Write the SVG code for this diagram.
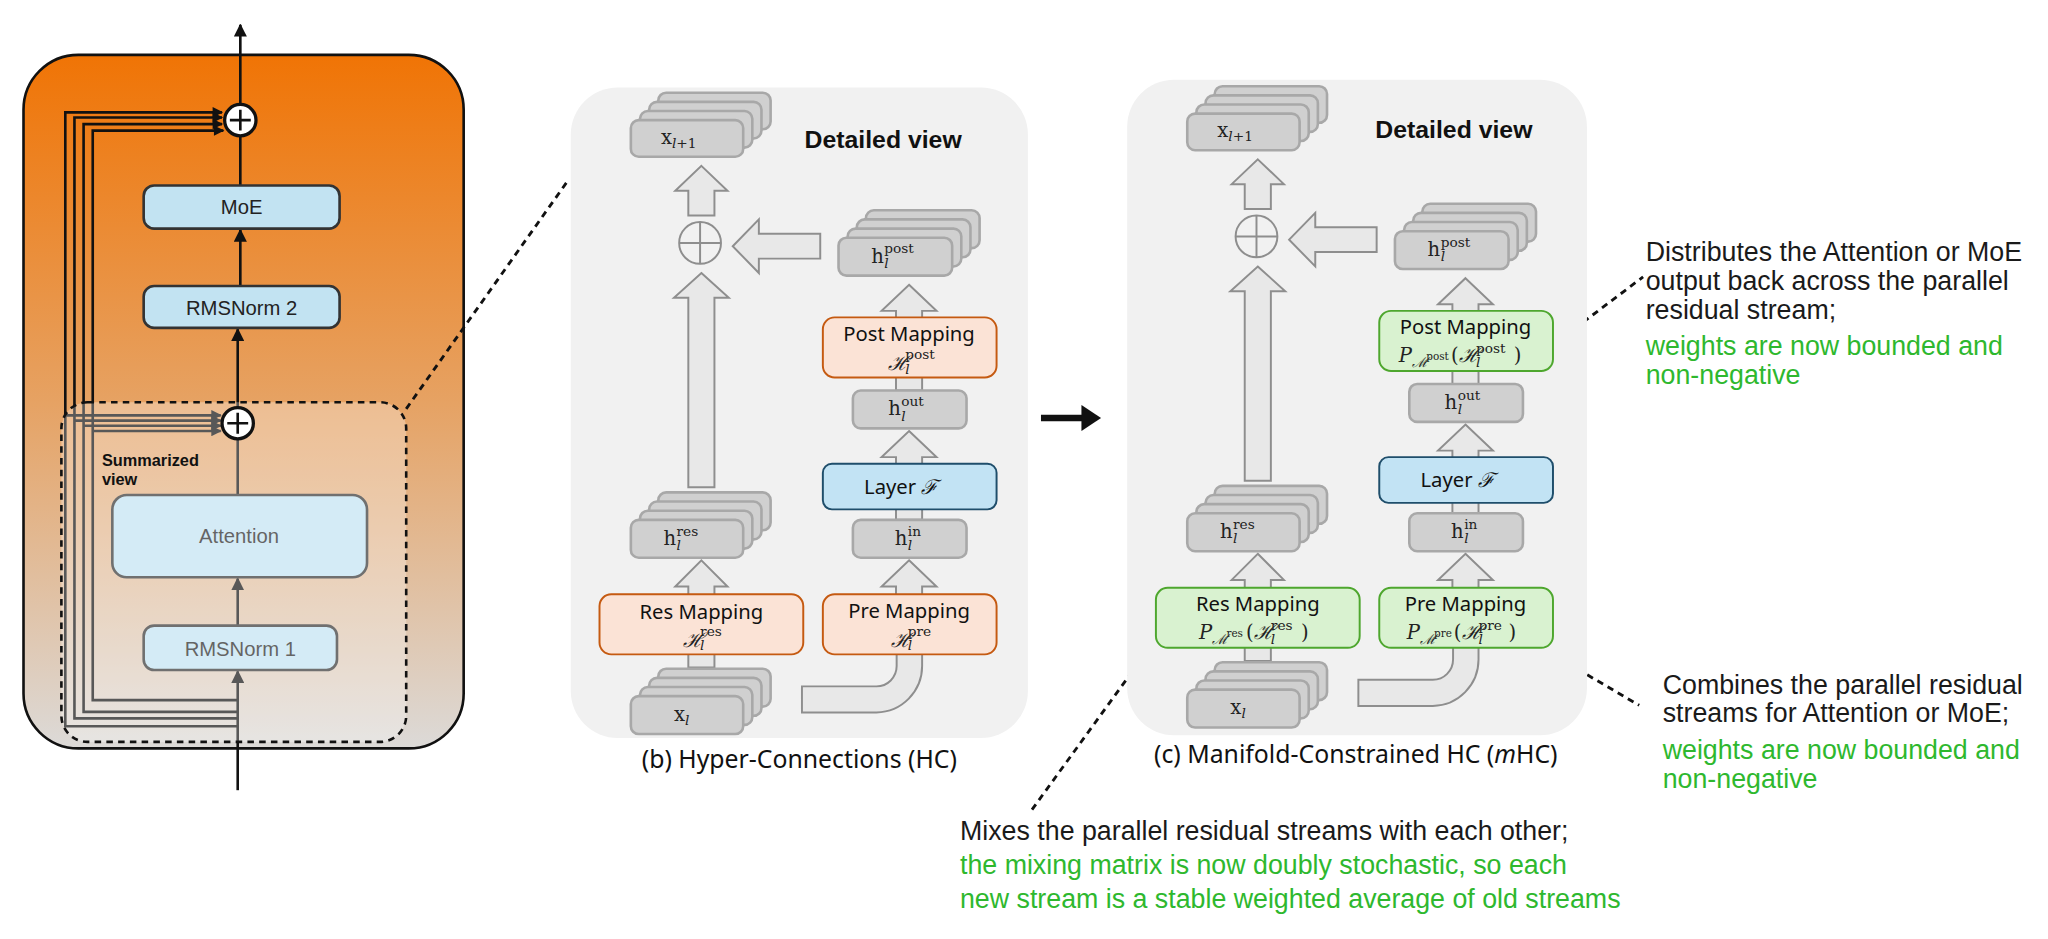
<svg xmlns="http://www.w3.org/2000/svg" width="2048" height="939" viewBox="0 0 2048 939">
<defs>
<linearGradient id="og" x1="0" y1="0" x2="0" y2="1">
<stop offset="0" stop-color="#F07405"/>
<stop offset="0.5" stop-color="#E6A263"/>
<stop offset="1" stop-color="#DCDAD8"/>
</linearGradient>
<marker id="ah" viewBox="0 0 10 10" refX="9" refY="5" markerWidth="10" markerHeight="10" markerUnits="userSpaceOnUse" orient="auto"><path d="M0,0 L10,5 L0,10 z" fill="#111"/></marker>
<marker id="ahs" viewBox="0 0 10 10" refX="9" refY="5" markerWidth="9" markerHeight="8" markerUnits="userSpaceOnUse" orient="auto"><path d="M0,0 L10,5 L0,10 z" fill="#111"/></marker>
<style>
.blk{fill:#C2E3F2;stroke:#333;stroke-width:2}
.lt{font-family:"Liberation Sans",Arial,sans-serif;font-size:15.5px;fill:#222;text-anchor:middle}
.ln{stroke:#111;stroke-width:2;fill:none}
.pan{fill:#F1F1F1}
.st{fill:#D0D0D0;stroke:#A8A8A8;stroke-width:2}
.ba{fill:#E8E8E8;stroke:#8E8E8E;stroke-width:1.5}
.om{fill:#FBE3D6;stroke:#C55A11;stroke-width:1.5}
.gm{fill:#D9F2D0;stroke:#4EA72E;stroke-width:1.5}
.lay{fill:#C2E3F4;stroke:#1F4E6B;stroke-width:1.5}
.m{font-family:"DejaVu Serif",serif;font-size:15px;fill:#222}
.ms{font-family:"DejaVu Serif",serif;font-size:10.5px;fill:#222}
.mx{font-family:"DejaVu Serif",serif;font-size:8px;fill:#222}
.it{font-style:italic}
.mt{font-family:"Noto Sans",sans-serif;font-size:15.5px;fill:#111;text-anchor:middle}
.dv{font-family:"Liberation Sans",Arial,sans-serif;font-size:19px;font-weight:bold;fill:#111}
.cap{font-family:"Noto Sans",sans-serif;font-size:19px;fill:#111;text-anchor:middle}
.an{font-family:"Liberation Sans",Arial,sans-serif;font-size:20.5px;fill:#1a1a1a}
.ag{font-family:"Liberation Sans",Arial,sans-serif;font-size:20.5px;fill:#2EB82E}
.dl{stroke:#111;stroke-width:2.2;stroke-dasharray:5,4;fill:none}
</style>
</defs>
<g transform="scale(1.30612)">
<g id="summary-panel">
<rect x="18" y="42" width="337" height="531" rx="42" fill="url(#og)" stroke="#111" stroke-width="2"/>
</g>
<g id="connectors">
<path class="ln" d="M182,556 H50 V86 H170" marker-end="url(#ahs)"/>
<path class="ln" d="M182,550 H57 V90 H170" marker-end="url(#ahs)"/>
<path class="ln" d="M182,545 H64 V95 H170" marker-end="url(#ahs)"/>
<path class="ln" d="M182,536 H71 V100 H171" marker-end="url(#ahs)"/>
<path class="ln" d="M50,318 H169" marker-end="url(#ahs)"/>
<path class="ln" d="M57,322 H169" marker-end="url(#ahs)"/>
<path class="ln" d="M64,326 H169" marker-end="url(#ahs)"/>
<path class="ln" d="M71,330 H169" marker-end="url(#ahs)"/>
<path class="ln" d="M182,605 V514" marker-end="url(#ah)" stroke-width="2.5"/>
<path class="ln" d="M182,479 V443" marker-end="url(#ah)" stroke-width="2.5"/>
<path class="ln" d="M182,379 V336" stroke-width="2.5"/>
<path class="ln" d="M182,312 V252" marker-end="url(#ah)" stroke-width="2.5"/>
<path class="ln" d="M184,219 V176" marker-end="url(#ah)" stroke-width="2.5"/>
<path class="ln" d="M184,142 V104" stroke-width="2.5"/>
<path class="ln" d="M184,80 V19" marker-end="url(#ah)" stroke-width="2.5"/>
<path class="dl" d="M311,313 L435,138"/>
<path class="dl" d="M1205,252 L1258,212"/>
<path class="dl" d="M1192,503 L1255,540"/>
<path class="dl" d="M883,492 L790,620"/>
<path d="M797,320 H830" stroke="#111" stroke-width="5"/>
<path d="M828,310 L843,320 L828,330 z" fill="#111"/>
</g>
<g id="moe"><rect class="blk" x="110" y="142" width="150" height="33" rx="8"/><text class="lt" x="185" y="164">MoE</text></g>
<g id="rmsnorm2"><rect class="blk" x="110" y="219" width="150" height="32" rx="8"/><text class="lt" x="185" y="241">RMSNorm 2</text></g>
<g id="attention"><rect class="blk" x="86" y="379" width="195" height="63" rx="11"/><text class="lt" x="183" y="416" font-size="16">Attention</text></g>
<g id="rmsnorm1"><rect class="blk" x="110" y="479" width="148" height="34" rx="8"/><text class="lt" x="184" y="502">RMSNorm 1</text></g>
<g id="summarized-view">
<rect x="47" y="308" width="264" height="260" rx="20" fill="#fff" fill-opacity="0.3" stroke="#111" stroke-width="2" stroke-dasharray="5,4"/>
<text x="78" y="357" font-family="Liberation Sans,Arial,sans-serif" font-weight="bold" font-size="12.5" fill="#111">Summarized</text>
<text x="78" y="371" font-family="Liberation Sans,Arial,sans-serif" font-weight="bold" font-size="12.5" fill="#111">view</text>
</g>
<g id="plus-top"><circle cx="184" cy="92" r="12" fill="#fff" stroke="#111" stroke-width="2.5"/><path d="M176,92 H192 M184,84 V100" stroke="#111" stroke-width="2"/></g>
<g id="plus-mid"><circle cx="182" cy="324" r="12" fill="#fff" stroke="#111" stroke-width="2.5"/><path d="M174,324 H190 M182,316 V332" stroke="#111" stroke-width="2"/></g>

<g id="panel-hc">
<rect class="pan" x="437" y="67" width="350" height="498" rx="36"/>
<text class="dv" x="616" y="113">Detailed view</text>
<text class="cap" x="612" y="588">(b) Hyper-Connections (HC)</text>
<g id="hc-arrows">
<polygon class="ba" points="537,127 557,146 547,146 547,165 527,165 527,146 517,146"/>
<polygon class="ba" points="537,209 558,228 547,228 547,373 527,373 527,228 516,228"/>
<polygon class="ba" points="537,429 557,449 547,449 547,511 527,511 527,449 517,449"/>
<polygon class="ba" points="561,188.5 581,168 581,179 628,179 628,198 581,198 581,209"/>
<polygon class="ba" points="696,218 717,238 706,238 706,299 686,299 686,238 675,238"/>
<polygon class="ba" points="696,330 717,350 706,350 706,398 686,398 686,350 675,350"/>
<polygon class="ba" points="696,429 717,449 706,449 706,456 686,456 686,449 675,449"/>
<path class="ba" d="M686.5,500 V510 A15.5,15.5 0 0 1 671,525.5 H614 V545.5 H671 A35.5,35.5 0 0 0 706,510 V500 Z"/>
</g>
<g id="hc-plus"><circle cx="536" cy="186" r="16" fill="#F1F1F1" stroke="#8E8E8E" stroke-width="1.5"/><path d="M520,186 H552 M536,170 V202" stroke="#8E8E8E" stroke-width="1.5"/></g>
<g id="hc-xnext">
<rect class="st" x="504" y="71" width="86" height="28" rx="6"/><rect class="st" x="497" y="78" width="86" height="28" rx="6"/><rect class="st" x="490" y="85" width="86" height="28" rx="6"/><rect class="st" x="483" y="92" width="86" height="28" rx="6"/>
<text class="m" x="506" y="110">x<tspan class="ms it" dy="3">l</tspan><tspan class="ms" dy="0">+1</tspan></text>
</g>
<g id="hc-hres">
<rect class="st" x="504" y="377" width="86" height="29" rx="6"/><rect class="st" x="497" y="384" width="86" height="29" rx="6"/><rect class="st" x="490" y="391" width="86" height="29" rx="6"/><rect class="st" x="483" y="398" width="86" height="29" rx="6"/>
<text class="m" x="508" y="417">h</text><text class="ms it" x="518" y="421">l</text><text class="ms" x="518" y="410">res</text>
</g>
<g id="hc-xl">
<rect class="st" x="504" y="512" width="86" height="29" rx="6"/><rect class="st" x="497" y="519" width="86" height="29" rx="6"/><rect class="st" x="490" y="526" width="86" height="29" rx="6"/><rect class="st" x="483" y="533" width="86" height="29" rx="6"/>
<text class="m" x="516" y="552">x<tspan class="ms it" dy="3">l</tspan></text>
</g>
<g id="hc-hpost">
<rect class="st" x="663" y="161" width="87" height="29" rx="6"/><rect class="st" x="656" y="168" width="87" height="29" rx="6"/><rect class="st" x="649" y="175" width="87" height="29" rx="6"/><rect class="st" x="642" y="182" width="87" height="29" rx="6"/>
<text class="m" x="667" y="201">h</text><text class="ms it" x="677" y="205">l</text><text class="ms" x="677" y="194">post</text>
</g>
<g id="hc-post"><rect class="om" x="630" y="243" width="133" height="46" rx="9"/><text class="mt" x="696" y="261">Post Mapping</text>
<text class="m it" x="680" y="283">ℋ</text><text class="ms it" x="693" y="286">l</text><text class="ms" x="693" y="275">post</text></g>
<g id="hc-hout"><rect class="st" x="653" y="299" width="87" height="29" rx="6"/><text class="m" x="680" y="318">h</text><text class="ms it" x="690" y="322">l</text><text class="ms" x="690" y="311">out</text></g>
<g id="hc-layer"><rect class="lay" x="630" y="355" width="133" height="35" rx="7"/><text class="mt" x="690" y="378">Layer <tspan font-family="DejaVu Serif,serif" font-style="italic">ℱ</tspan></text></g>
<g id="hc-hin"><rect class="st" x="653" y="398" width="87" height="29" rx="6"/><text class="m" x="685" y="417">h</text><text class="ms it" x="695" y="421">l</text><text class="ms" x="695" y="410">in</text></g>
<g id="hc-res"><rect class="om" x="459" y="455" width="156" height="46" rx="9"/><text class="mt" x="537" y="474">Res Mapping</text>
<text class="m it" x="523" y="495">ℋ</text><text class="ms it" x="536" y="498">l</text><text class="ms" x="536" y="487">res</text></g>
<g id="hc-pre"><rect class="om" x="630" y="455" width="133" height="46" rx="9"/><text class="mt" x="696" y="473">Pre Mapping</text>
<text class="m it" x="682" y="495">ℋ</text><text class="ms it" x="695" y="498">l</text><text class="ms" x="695" y="487">pre</text></g>
</g>

<g id="panel-mhc" transform="translate(426,-5)">
<rect class="pan" x="437" y="66" width="352" height="502" rx="36"/>
<text class="dv" x="627" y="111">Detailed view</text>
<text class="cap" x="612" y="589">(c) Manifold-Constrained HC (<tspan font-style="italic">m</tspan>HC)</text>
<g id="mhc-arrows">
<polygon class="ba" points="537,127 557,146 547,146 547,165 527,165 527,146 517,146"/>
<polygon class="ba" points="537,209 558,228 547,228 547,373 527,373 527,228 516,228"/>
<polygon class="ba" points="537,429 557,449 547,449 547,511 527,511 527,449 517,449"/>
<polygon class="ba" points="561,188.5 581,168 581,179 628,179 628,198 581,198 581,209"/>
<polygon class="ba" points="696,218 717,238 706,238 706,299 686,299 686,238 675,238"/>
<polygon class="ba" points="696,330 717,350 706,350 706,398 686,398 686,350 675,350"/>
<polygon class="ba" points="696,429 717,449 706,449 706,456 686,456 686,449 675,449"/>
<path class="ba" d="M686.5,500 V510 A15.5,15.5 0 0 1 671,525.5 H614 V545.5 H671 A35.5,35.5 0 0 0 706,510 V500 Z"/>
</g>
<g id="mhc-plus"><circle cx="536" cy="186" r="16" fill="#F1F1F1" stroke="#8E8E8E" stroke-width="1.5"/><path d="M520,186 H552 M536,170 V202" stroke="#8E8E8E" stroke-width="1.5"/></g>
<g id="mhc-xnext">
<rect class="st" x="504" y="71" width="86" height="28" rx="6"/><rect class="st" x="497" y="78" width="86" height="28" rx="6"/><rect class="st" x="490" y="85" width="86" height="28" rx="6"/><rect class="st" x="483" y="92" width="86" height="28" rx="6"/>
<text class="m" x="506" y="110">x<tspan class="ms it" dy="3">l</tspan><tspan class="ms" dy="0">+1</tspan></text>
</g>
<g id="mhc-hres">
<rect class="st" x="504" y="377" width="86" height="29" rx="6"/><rect class="st" x="497" y="384" width="86" height="29" rx="6"/><rect class="st" x="490" y="391" width="86" height="29" rx="6"/><rect class="st" x="483" y="398" width="86" height="29" rx="6"/>
<text class="m" x="508" y="417">h</text><text class="ms it" x="518" y="421">l</text><text class="ms" x="518" y="410">res</text>
</g>
<g id="mhc-xl">
<rect class="st" x="504" y="512" width="86" height="29" rx="6"/><rect class="st" x="497" y="519" width="86" height="29" rx="6"/><rect class="st" x="490" y="526" width="86" height="29" rx="6"/><rect class="st" x="483" y="533" width="86" height="29" rx="6"/>
<text class="m" x="516" y="552">x<tspan class="ms it" dy="3">l</tspan></text>
</g>
<g id="mhc-hpost">
<rect class="st" x="663" y="161" width="87" height="29" rx="6"/><rect class="st" x="656" y="168" width="87" height="29" rx="6"/><rect class="st" x="649" y="175" width="87" height="29" rx="6"/><rect class="st" x="642" y="182" width="87" height="29" rx="6"/>
<text class="m" x="667" y="201">h</text><text class="ms it" x="677" y="205">l</text><text class="ms" x="677" y="194">post</text>
</g>
<g id="mhc-post"><rect class="gm" x="630" y="243" width="133" height="46" rx="9"/><text class="mt" x="696" y="261">Post Mapping</text>
<text class="m it" x="645" y="282">P</text><text class="ms it" x="655" y="286">ℳ</text><text class="mx" x="666" y="281">post</text><text class="m" x="685" y="282">(</text><text class="m it" x="691" y="282">ℋ</text><text class="ms it" x="704" y="286">l</text><text class="ms" x="704" y="275">post</text><text class="m" x="733" y="282">)</text></g>
<g id="mhc-hout"><rect class="st" x="653" y="299" width="87" height="29" rx="6"/><text class="m" x="680" y="318">h</text><text class="ms it" x="690" y="322">l</text><text class="ms" x="690" y="311">out</text></g>
<g id="mhc-layer"><rect class="lay" x="630" y="355" width="133" height="35" rx="7"/><text class="mt" x="690" y="378">Layer <tspan font-family="DejaVu Serif,serif" font-style="italic">ℱ</tspan></text></g>
<g id="mhc-hin"><rect class="st" x="653" y="398" width="87" height="29" rx="6"/><text class="m" x="685" y="417">h</text><text class="ms it" x="695" y="421">l</text><text class="ms" x="695" y="410">in</text></g>
<g id="mhc-res"><rect class="gm" x="459" y="455" width="156" height="46" rx="9"/><text class="mt" x="537" y="473">Res Mapping</text>
<text class="m it" x="492" y="494">P</text><text class="ms it" x="502" y="498">ℳ</text><text class="mx" x="513" y="493">res</text><text class="m" x="528" y="494">(</text><text class="m it" x="534" y="494">ℋ</text><text class="ms it" x="547" y="498">l</text><text class="ms" x="547" y="487">res</text><text class="m" x="570" y="494">)</text></g>
<g id="mhc-pre"><rect class="gm" x="630" y="455" width="133" height="46" rx="9"/><text class="mt" x="696" y="473">Pre Mapping</text>
<text class="m it" x="651" y="494">P</text><text class="ms it" x="661" y="498">ℳ</text><text class="mx" x="672" y="493">pre</text><text class="m" x="687" y="494">(</text><text class="m it" x="693" y="494">ℋ</text><text class="ms it" x="706" y="498">l</text><text class="ms" x="706" y="487">pre</text><text class="m" x="729" y="494">)</text></g>
</g>

<g id="note-post">
<text class="an" x="1260" y="200">Distributes the Attention or MoE</text>
<text class="an" x="1260" y="222">output back across the parallel</text>
<text class="an" x="1260" y="244">residual stream;</text>
<text class="ag" x="1260" y="272">weights are now bounded and</text>
<text class="ag" x="1260" y="294">non-negative</text>
</g>
<g id="note-pre">
<text class="an" x="1273" y="531">Combines the parallel residual</text>
<text class="an" x="1273" y="553">streams for Attention or MoE;</text>
<text class="ag" x="1273" y="581">weights are now bounded and</text>
<text class="ag" x="1273" y="603">non-negative</text>
</g>
<g id="note-res">
<text class="an" x="735" y="643">Mixes the parallel residual streams with each other;</text>
<text class="ag" x="735" y="669">the mixing matrix is now doubly stochastic, so each</text>
<text class="ag" x="735" y="695">new stream is a stable weighted average of old streams</text>
</g>
</g>
</svg>
